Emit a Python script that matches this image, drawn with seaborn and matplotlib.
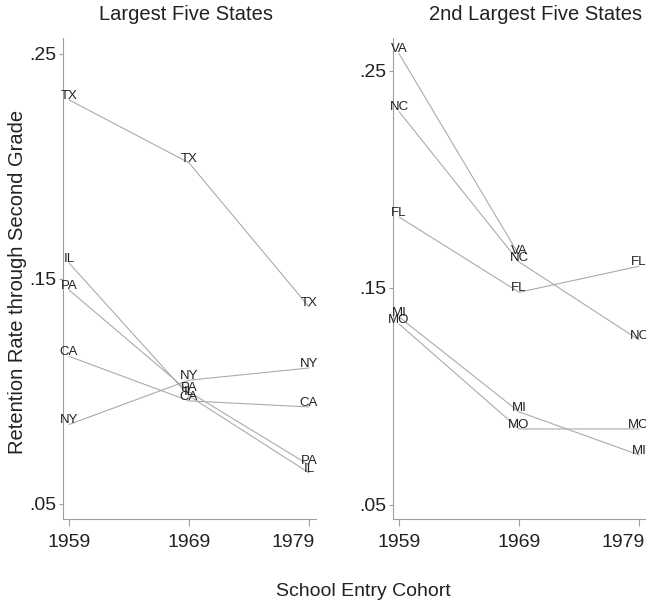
import numpy as np
import pandas as pd
import matplotlib
matplotlib.use("Agg")
import matplotlib.pyplot as plt
import matplotlib.transforms as mtransforms
import seaborn as sns

# Data
years = [1959, 1969, 1979]

left_states = ["TX", "IL", "PA", "CA", "NY"]
tx = [0.2296, 0.2016, 0.1376]
il = [0.1571, 0.0980, 0.0638]
pa = [0.1451, 0.0998, 0.0673]
ca = [0.1156, 0.0958, 0.0931]
ny = [0.0853, 0.1050, 0.1104]

right_states = ["VA", "NC", "FL", "MI", "MO"]
va = [0.2580, 0.1652, np.nan]
nc = [0.2313, 0.1620, 0.1260]
fl = [0.1827, 0.1480, 0.1600]
mi = [0.1366, 0.0929, 0.0730]
mo = [0.1334, 0.0850, 0.0850]

left_values = [tx, il, pa, ca, ny]
right_values = [va, nc, fl, mi, mo]

titles = ["Largest Five States", "2nd Largest Five States"]
ytick_vals = [0.05, 0.15, 0.25]
ytick_labels = [".05", ".15", ".25"]


def make_df(states, values):
    rows = []
    for s, vals in zip(states, values):
        for y, v in zip(years, vals):
            if not np.isnan(v):
                rows.append({"state": s, "year": y, "rate": v})
    return pd.DataFrame(rows)


sns.set_style("white")
plt.rcParams["font.family"] = ["Liberation Sans", "DejaVu Sans"]

fig = plt.figure(figsize=(6.46, 6.06), dpi=100)
ax1 = fig.add_axes([0.0975, 0.1436, 0.3916, 0.7937])
ax2 = fig.add_axes([0.6084, 0.1436, 0.3916, 0.7937])

line_col = "#ababab"
axis_col = "#a0a0a0"

for ax, states, values, ylim in [
    (ax1, left_states, left_values, (0.0433, 0.2571)),
    (ax2, right_states, right_values, (0.0435, 0.2652)),
]:
    df = make_df(states, values)
    sns.lineplot(data=df, x="year", y="rate", units="state", estimator=None,
                 color=line_col, linewidth=0.8, ax=ax, legend=False)
    # state labels at each point
    for _, r in df.iterrows():
        ax.annotate(r["state"], (r["year"], r["rate"]), xytext=(0, 3),
                    textcoords="offset points", ha="center", va="center",
                    fontsize=9.5, color="#222222", annotation_clip=False)
    ax.set_xlim(1958.5, 1979.58)
    ax.set_ylim(*ylim)
    ax.set_xticks(years)
    ax.set_xticklabels([str(y) for y in years])
    ax.set_yticks(ytick_vals)
    ax.set_yticklabels(ytick_labels)
    ax.set_xlabel("")
    ax.set_ylabel("")
    sns.despine(ax=ax)
    for sp in ["left", "bottom"]:
        ax.spines[sp].set_color(axis_col)
        ax.spines[sp].set_linewidth(0.8)
    ax.tick_params(axis="both", which="major", direction="out", width=0.8,
                   color=axis_col, labelsize=14, labelcolor="#222222",
                   left=True, bottom=True)
    ax.tick_params(axis="y", length=3, pad=2)
    ax.tick_params(axis="x", length=5, pad=5.5)
    # last year label sits flush with the end of the axis, like the original
    last = ax.get_xticklabels()[-1]
    last.set_horizontalalignment("right")
    last.set_transform(last.get_transform() +
                       mtransforms.ScaledTranslation(6 / 100, 0, fig.dpi_scale_trans))

# titles and shared axis labels
fig.text(186 / 646, 1 - 15 / 606, titles[0], ha="center", va="center",
         fontsize=14.5, color="#222222")
fig.text(536 / 646, 1 - 15 / 606, titles[1], ha="center", va="center",
         fontsize=14.5, color="#222222")
fig.text(18 / 646, 1 - 282 / 606, "Retention Rate through Second Grade",
         rotation=90, ha="center", va="center", fontsize=14.5, color="#222222")
fig.text(363 / 646, 1 - 592 / 606, "School Entry Cohort", ha="center",
         va="center", fontsize=14, color="#222222")

plt.savefig("out.png", dpi=100)
